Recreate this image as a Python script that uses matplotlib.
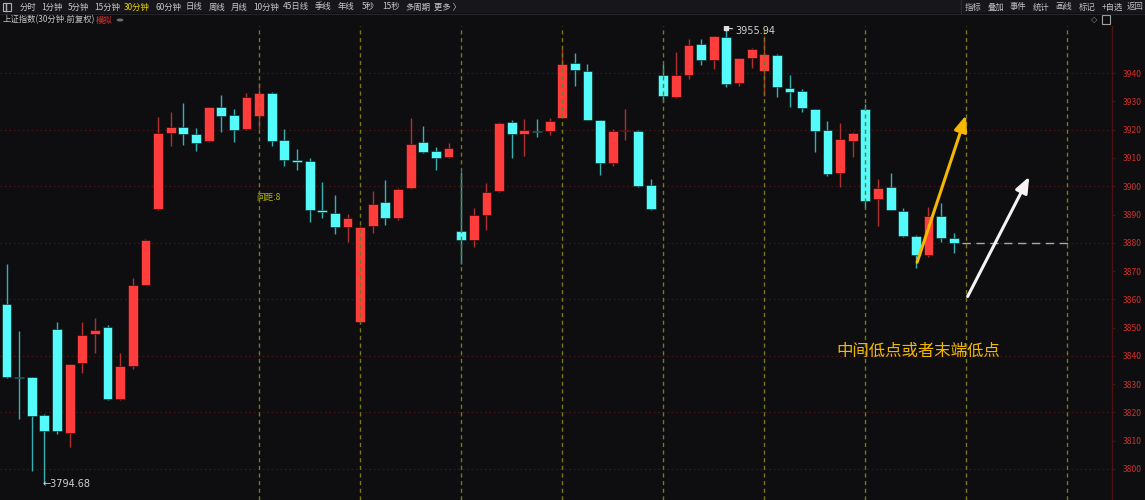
import matplotlib
matplotlib.use("Agg")
import matplotlib.pyplot as plt
from matplotlib.patches import Rectangle
from matplotlib.lines import Line2D
import numpy as np

plt.rcParams['font.family'] = ['Noto Sans CJK SC', 'DejaVu Sans']

# 30-minute candles (open, high, low, close)
opens = [3858.3, 3832.6, 3832.4, 3819.0, 3849.5, 3812.8, 3837.4, 3847.6, 3850.2, 3824.9,
         3836.4, 3865.1, 3892.1, 3918.9, 3921.1, 3918.4, 3916.0, 3928.2, 3925.1, 3920.3,
         3925.0, 3933.1, 3916.4, 3909.3, 3908.9, 3891.5, 3890.7, 3885.6, 3851.9, 3885.9,
         3894.4, 3888.9, 3899.5, 3915.6, 3912.4, 3910.4, 3884.0, 3881.1, 3889.9, 3898.2,
         3922.8, 3918.4, 3919.7, 3919.6, 3924.1, 3943.5, 3940.8, 3923.4, 3908.3, 3919.5,
         3919.7, 3900.4, 3939.5, 3931.5, 3939.3, 3950.4, 3944.7, 3952.9, 3936.7, 3945.5,
         3940.7, 3946.6, 3934.9, 3933.6, 3927.3, 3919.9, 3904.6, 3916.0, 3927.5, 3895.4,
         3899.8, 3891.2, 3882.5, 3875.7, 3889.4, 3881.7]
highs = [3872.5, 3848.8, 3832.5, 3819.5, 3851.9, 3837.2, 3852.0, 3853.4, 3851.0, 3841.1,
         3867.5, 3881.3, 3924.6, 3926.1, 3929.5, 3920.5, 3928.2, 3932.4, 3927.3, 3932.9,
         3936.7, 3933.3, 3920.4, 3913.1, 3909.9, 3901.5, 3896.9, 3890.1, 3885.8, 3898.2,
         3902.1, 3899.5, 3924.1, 3921.4, 3914.0, 3915.2, 3905.0, 3892.3, 3901.1, 3922.7,
         3923.3, 3923.9, 3923.9, 3924.2, 3948.5, 3947.3, 3943.2, 3923.6, 3920.4, 3927.5,
         3919.9, 3902.7, 3943.3, 3947.4, 3952.0, 3952.0, 3953.3, 3955.94, 3945.5, 3949.0,
         3953.2, 3946.8, 3939.2, 3934.4, 3927.5, 3923.0, 3922.5, 3919.2, 3929.0, 3902.5,
         3904.6, 3892.3, 3882.6, 3892.8, 3894.0, 3883.4]
lows = [3832.3, 3817.7, 3799.4, 3794.68, 3812.4, 3807.9, 3834.1, 3841.1, 3824.3, 3824.5,
        3835.5, 3865.0, 3891.7, 3914.3, 3914.6, 3912.6, 3915.5, 3919.3, 3915.8, 3920.0,
        3920.3, 3914.3, 3907.1, 3905.7, 3887.4, 3888.9, 3883.2, 3880.4, 3851.5, 3883.4,
        3886.4, 3888.2, 3899.0, 3911.9, 3905.7, 3910.0, 3872.5, 3878.4, 3884.5, 3898.0,
        3909.9, 3910.6, 3917.5, 3918.2, 3924.0, 3935.6, 3923.3, 3904.0, 3907.1, 3916.4,
        3899.7, 3891.7, 3929.7, 3931.3, 3938.1, 3943.0, 3941.6, 3935.0, 3935.5, 3941.8,
        3932.0, 3931.6, 3928.2, 3926.1, 3912.0, 3903.8, 3899.9, 3910.5, 3892.2, 3886.1,
        3891.5, 3882.0, 3871.2, 3875.0, 3880.4, 3876.4]
closes = [3832.6, 3832.2, 3818.7, 3813.3, 3813.5, 3837.0, 3847.4, 3849.3, 3824.6, 3836.3,
          3865.1, 3881.1, 3918.8, 3921.1, 3918.6, 3915.3, 3928.0, 3925.0, 3920.0, 3931.7,
          3933.1, 3916.0, 3909.4, 3908.7, 3891.7, 3890.9, 3885.6, 3888.8, 3885.6, 3893.9,
          3888.7, 3899.0, 3914.9, 3912.2, 3910.1, 3913.6, 3880.9, 3889.9, 3897.9, 3922.5,
          3918.6, 3919.9, 3919.1, 3923.0, 3943.3, 3941.2, 3923.5, 3908.3, 3919.5, 3920.0,
          3900.1, 3891.9, 3931.8, 3939.5, 3950.0, 3944.7, 3953.2, 3936.3, 3945.4, 3948.5,
          3946.8, 3935.0, 3933.3, 3927.6, 3919.6, 3904.5, 3916.8, 3919.0, 3894.7, 3899.5,
          3891.7, 3882.5, 3875.6, 3889.4, 3881.6, 3880.0]

price_ticks = list(range(3800, 3950, 10))
grid_levels = list(range(3800, 3950, 20))
period_lines = [20, 28, 36, 44, 52, 60, 68, 76, 84]

toolbar_left = ['分时', '1分钟', '5分钟', '15分钟', '30分钟', '60分钟', '日线', '周线', '月线',
                '10分钟', '45日线', '季线', '年线', '5秒', '15秒', '多周期', '更多 〉']
toolbar_left_x = [20, 41.7, 67.7, 94, 124.3, 155, 186, 208.3, 231, 253.3, 283.3, 315,
                  337.7, 361.7, 382, 405, 434]
toolbar_right = ['指标', '叠加', '事件', '统计', '画线', '标记', '+自选', '返回']
toolbar_right_x = [965, 987.7, 1010, 1032.7, 1055.7, 1079.3, 1101.3, 1126.7]

# hand-drawn arrows: (x0, y0) -> (x1, y1) in candle index / price
orange_arrow = [(72.1, 3873.1), (75.97, 3925.1)]
white_arrow = [(76.1, 3861.0), (80.98, 3903.4)]

BG = '#0e0e11'
RED = '#ff3d3d'
CYAN = '#55fbfb'
W, H = 1145, 500

fig = plt.figure(figsize=(W / 100, H / 100), dpi=100, facecolor=BG)
ax = fig.add_axes([0, 0, 1112 / W, (H - 26) / H])
ax.set_facecolor(BG)

# header strip
fig.patches.append(Rectangle((0, 1 - 13 / H), 1, 13 / H, transform=fig.transFigure,
                             facecolor='#17171b', edgecolor='none', zorder=0))
fig.lines.append(Line2D([0, 1], [1 - 13.5 / H] * 2, transform=fig.transFigure,
                        color='#26262b', lw=0.8))
fig.lines.append(Line2D([961.5 / W] * 2, [1 - 13 / H, 1], transform=fig.transFigure,
                        color='#2c2c32', lw=0.8))
fig.patches.append(Rectangle((3 / W, 1 - 11 / H), 8 / W, 8 / H, transform=fig.transFigure,
                             facecolor='none', edgecolor='#b0b0b0', lw=0.8))
fig.lines.append(Line2D([5.5 / W] * 2, [1 - 10.5 / H, 1 - 3.5 / H], transform=fig.transFigure,
                        color='#b0b0b0', lw=1.0))
for lab, x in zip(toolbar_left, toolbar_left_x):
    fig.text(x / W, 1 - 7 / H, lab, fontsize=6, va='center', ha='left',
             color='#e6d200' if lab == '30分钟' else '#c8c8c8')
for lab, x in zip(toolbar_right, toolbar_right_x):
    fig.text(x / W, 1 - 7 / H, lab, fontsize=6, va='center', ha='left', color='#c0c0c0')
fig.text(3 / W, 1 - 20 / H, '上证指数(30分钟.前复权)', fontsize=6, va='center', ha='left',
         color='#c8c8c8')
fig.text(96 / W, 1 - 20 / H, '模拟', fontsize=6, va='center', ha='left', color='#e03030')
fig.patches.append(plt.Circle((120 / W, 1 - 20 / H), 3.4 / W, transform=fig.transFigure,
                              facecolor='#707070', edgecolor='none'))
fig.text(1094 / W, 1 - 20 / H, '◇', fontsize=6, va='center', ha='center', color='#909090',
         family='DejaVu Sans')
fig.patches.append(Rectangle((1102 / W, 1 - 24 / H), 8 / W, 9 / H, transform=fig.transFigure,
                             facecolor='none', edgecolor='#a0a0a0', lw=0.8))

x = np.arange(len(opens))
o = np.array(opens)
c = np.array(closes)
up = c >= o
body_lo = np.minimum(o, c)
body_h = np.maximum(np.abs(c - o), 0.45)

ax.vlines(x[up], np.array(lows)[up], np.array(highs)[up], color='#b03030', lw=1, zorder=3)
ax.vlines(x[~up], np.array(lows)[~up], np.array(highs)[~up], color='#35b0b0', lw=1, zorder=3)
ax.bar(x[up], body_h[up], bottom=body_lo[up], width=0.78, color=RED, edgecolor='#1a0505',
       lw=0.4, zorder=4)
ax.bar(x[~up], body_h[~up], bottom=body_lo[~up], width=0.78, color=CYAN, edgecolor='#051a1a',
       lw=0.4, zorder=4)

for g in grid_levels:
    ax.axhline(g, color='#4a1414', lw=0.8, ls=(0, (1.5, 2.5)), zorder=1)
for p in period_lines:
    ax.axvline(p, color='#77771a', lw=1, ls=(0, (3, 2.5)), zorder=5)

ax.set_xlim(-0.515, 87.53)
ax.set_ylim(3789.0, 3956.7)

ax.yaxis.tick_right()
ax.set_yticks(price_ticks)
ax.tick_params(axis='y', colors='#4a1414', length=2.5, pad=5.5, labelsize=6.2,
               labelcolor='#c8302c')
ax.set_xticks([])
for s in ['top', 'left', 'bottom']:
    ax.spines[s].set_visible(False)
ax.spines['right'].set_color('#4e1212')
ax.spines['right'].set_linewidth(1)

# extremes
i_lo = int(np.argmin(lows))
ax.annotate('←' + f'{lows[i_lo]:.2f}', xy=(i_lo, lows[i_lo]), xytext=(-1.5, 0),
            textcoords='offset points', ha='left', va='center', fontsize=7,
            color='#d0d0d0', zorder=6, family='DejaVu Sans')
i_hi = int(np.argmax(highs))
ax.annotate(f'{highs[i_hi]:.2f}', xy=(i_hi, highs[i_hi]), xytext=(6.5, -2),
            textcoords='offset points', ha='left', va='center', fontsize=7,
            color='#d0d0d0', zorder=6, family='DejaVu Sans',
            arrowprops=dict(arrowstyle='-', color='#d0d0d0', lw=0.8, shrinkA=0, shrinkB=0))
ax.plot([i_hi], [highs[i_hi]], marker='s', ms=2.2, color='#e0e0e0', zorder=6)

ax.text(19.8, 3895.9, '间距:8', fontsize=6.2, color='#b4b400', va='center', ha='left', zorder=6)

# last close reference line
ax.hlines(closes[-1], 75.65, 84.2, color='#a8a8a8', lw=1, ls=(0, (6, 4)), zorder=5)

for arr, col in [(orange_arrow, '#f5b800'), (white_arrow, '#f4f4f4')]:
    ax.annotate('', xy=arr[1], xytext=arr[0],
                arrowprops=dict(arrowstyle='-|>,head_length=0.95,head_width=0.38',
                                color=col, lw=2.2, shrinkA=0, shrinkB=0, mutation_scale=10),
                zorder=7)

ax.text(65.7, 3841.4, '中间低点或者末端低点', fontsize=11.8, color='#f5b800',
        va='center', ha='left', zorder=7)

fig.savefig('out.png', dpi=100, facecolor=BG)
